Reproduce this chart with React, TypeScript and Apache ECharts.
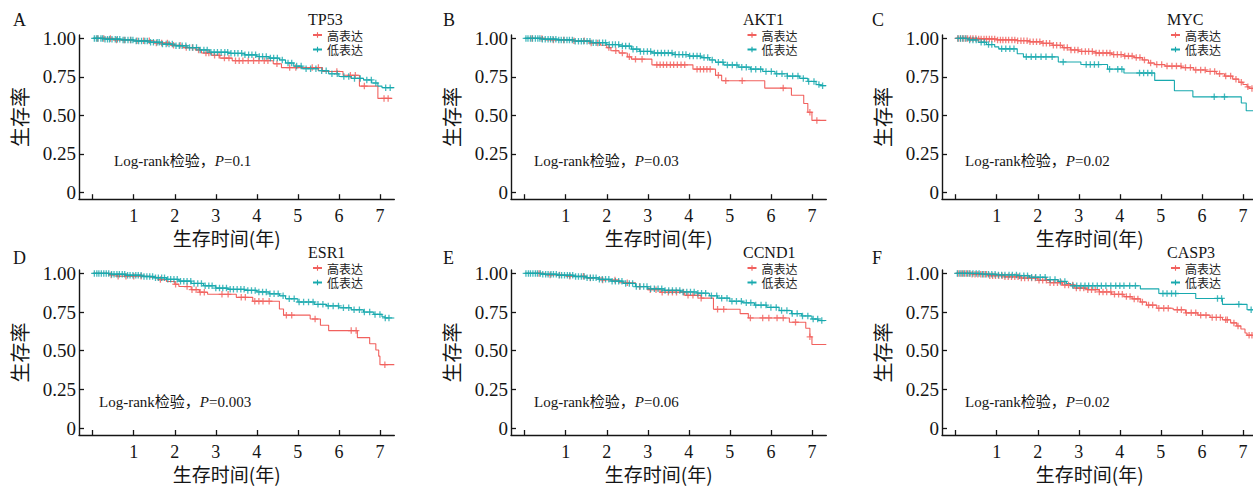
import React, { useEffect, useRef } from 'react';
import * as echarts from 'echarts';

// ---------------- data ----------------
const X_TICKS = [0, 1, 2, 3, 4, 5, 6, 7];
const X_LABELS = [1, 2, 3, 4, 5, 6, 7];
const Y_TICKS = [0, 0.25, 0.5, 0.75, 1];

const GROUP_HIGH = '高表达';
const GROUP_LOW = '低表达';

const GENES = ['TP53', 'AKT1', 'MYC', 'ESR1', 'CCND1', 'CASP3'];
const LETTERS = ['A', 'B', 'C', 'D', 'E', 'F'];
const P_VALUES = ['0.1', '0.03', '0.02', '0.003', '0.06', '0.02'];

// Kaplan-Meier steps: [time (years), survival]
const TP53_HIGH = [[0, 1], [0.5, 0.99], [1.0, 0.985], [1.5, 0.97], [1.9, 0.955], [2.2, 0.94], [2.5, 0.925], [2.65, 0.905], [2.9, 0.89], [3.1, 0.872], [3.4, 0.855], [4.4, 0.835], [4.6, 0.81], [5.6, 0.785], [6.1, 0.76], [6.5, 0.69], [6.95, 0.61], [7.3, 0.61]];
const TP53_LOW = [[0, 1], [0.3, 0.995], [0.7, 0.99], [1.0, 0.983], [1.4, 0.975], [1.7, 0.963], [2.0, 0.952], [2.3, 0.94], [2.6, 0.925], [2.85, 0.91], [3.3, 0.903], [3.7, 0.893], [4.0, 0.882], [4.3, 0.872], [4.55, 0.86], [4.7, 0.84], [4.9, 0.82], [5.1, 0.803], [5.5, 0.79], [5.75, 0.77], [6.0, 0.752], [6.3, 0.74], [6.6, 0.73], [6.8, 0.71], [6.95, 0.69], [7.05, 0.68], [7.35, 0.68]];
const TP53_HIGH_CENSOR = [0.12, 0.27, 0.43, 0.58, 0.77, 0.92, 1.08, 1.24, 1.38, 1.55, 1.68, 1.82, 1.97, 2.13, 2.28, 2.43, 2.58, 2.76, 2.83, 2.97, 3.08, 3.21, 3.32, 3.48, 3.57, 3.66, 3.79, 3.92, 4.05, 4.18, 4.27, 4.49, 4.8, 4.95, 5.35, 5.5, 5.95, 6.28, 6.4, 6.62, 7.1, 7.2];
const TP53_LOW_CENSOR = [0.04, 0.09, 0.13, 0.2, 0.24, 0.3, 0.36, 0.41, 0.47, 0.55, 0.6, 0.66, 0.74, 0.79, 0.86, 0.93, 0.98, 1.06, 1.12, 1.19, 1.27, 1.33, 1.41, 1.48, 1.57, 1.62, 1.7, 1.79, 1.86, 1.94, 2.03, 2.11, 2.18, 2.27, 2.36, 2.44, 2.53, 2.62, 2.71, 2.79, 2.88, 2.96, 3.04, 3.13, 3.22, 3.29, 3.37, 3.46, 3.54, 3.63, 3.71, 3.8, 3.88, 3.97, 4.06, 4.14, 4.23, 4.33, 4.41, 4.5, 4.62, 4.76, 4.85, 4.97, 5.08, 5.2, 5.31, 5.44, 5.58, 5.69, 5.83, 5.96, 6.12, 6.24, 6.38, 6.52, 6.68, 6.79, 6.9, 7.14, 7.25];

const AKT1_HIGH = [[0, 1], [0.5, 0.99], [1.2, 0.985], [1.6, 0.97], [1.85, 0.955], [2.0, 0.94], [2.1, 0.92], [2.3, 0.905], [2.5, 0.88], [2.6, 0.865], [3.1, 0.828], [4.1, 0.8], [4.65, 0.76], [4.8, 0.725], [5.85, 0.677], [6.5, 0.63], [6.8, 0.577], [6.9, 0.52], [7.0, 0.467], [7.35, 0.467]];
const AKT1_LOW = [[0, 1], [0.4, 0.995], [0.8, 0.99], [1.2, 0.982], [1.6, 0.972], [2.0, 0.96], [2.3, 0.95], [2.6, 0.93], [2.8, 0.915], [3.1, 0.905], [3.6, 0.895], [4.0, 0.885], [4.3, 0.875], [4.5, 0.86], [4.65, 0.845], [4.85, 0.827], [5.2, 0.813], [5.5, 0.8], [5.8, 0.785], [6.1, 0.77], [6.4, 0.755], [6.7, 0.74], [6.9, 0.72], [7.1, 0.7], [7.2, 0.693], [7.35, 0.693]];
const AKT1_HIGH_CENSOR = [0.18, 0.42, 0.7, 0.95, 1.2, 1.45, 1.62, 1.78, 2.05, 2.22, 2.38, 2.55, 2.7, 2.86, 3.22, 3.3, 3.38, 3.46, 3.55, 3.63, 3.72, 3.81, 3.9, 4.2, 4.28, 4.36, 4.44, 4.52, 4.72, 4.9, 5.3, 6.3, 6.95, 7.12];
const AKT1_LOW_CENSOR = [0.03, 0.08, 0.14, 0.19, 0.26, 0.32, 0.37, 0.43, 0.5, 0.57, 0.63, 0.69, 0.76, 0.83, 0.89, 0.96, 1.03, 1.09, 1.16, 1.23, 1.31, 1.38, 1.44, 1.52, 1.59, 1.67, 1.74, 1.82, 1.9, 1.97, 2.06, 2.14, 2.21, 2.29, 2.38, 2.46, 2.55, 2.64, 2.73, 2.82, 2.9, 2.99, 3.07, 3.16, 3.24, 3.33, 3.41, 3.5, 3.59, 3.67, 3.76, 3.85, 3.93, 4.02, 4.11, 4.2, 4.28, 4.37, 4.46, 4.57, 4.72, 4.83, 4.94, 5.06, 5.17, 5.29, 5.4, 5.52, 5.63, 5.75, 5.88, 6.01, 6.14, 6.27, 6.4, 6.53, 6.66, 6.79, 6.92, 7.05, 7.17, 7.26];

const MYC_HIGH = [[0, 1], [0.5, 0.996], [1.0, 0.99], [1.5, 0.985], [1.8, 0.978], [2.1, 0.968], [2.35, 0.955], [2.6, 0.94], [2.8, 0.925], [3.0, 0.915], [3.4, 0.905], [3.8, 0.895], [4.1, 0.885], [4.35, 0.875], [4.55, 0.86], [4.7, 0.84], [4.85, 0.83], [5.1, 0.82], [5.5, 0.81], [5.8, 0.795], [6.1, 0.785], [6.35, 0.77], [6.55, 0.755], [6.75, 0.735], [6.9, 0.715], [7.0, 0.7], [7.1, 0.685], [7.15, 0.675], [7.35, 0.675]];
const MYC_LOW = [[0, 1], [0.3, 0.99], [0.55, 0.975], [0.75, 0.96], [0.95, 0.945], [1.05, 0.932], [1.5, 0.9], [1.65, 0.88], [2.5, 0.847], [3.05, 0.83], [3.7, 0.8], [4.1, 0.775], [4.85, 0.727], [5.33, 0.66], [5.78, 0.62], [6.96, 0.58], [7.08, 0.53], [7.35, 0.53]];
const MYC_HIGH_CENSOR = [0.05, 0.11, 0.17, 0.23, 0.29, 0.36, 0.42, 0.49, 0.56, 0.62, 0.69, 0.75, 0.82, 0.88, 0.95, 1.02, 1.09, 1.15, 1.22, 1.29, 1.37, 1.44, 1.51, 1.59, 1.66, 1.74, 1.81, 1.89, 1.97, 2.05, 2.13, 2.21, 2.29, 2.38, 2.46, 2.55, 2.64, 2.72, 2.81, 2.9, 2.98, 3.07, 3.16, 3.24, 3.33, 3.42, 3.5, 3.59, 3.68, 3.76, 3.85, 3.94, 4.03, 4.12, 4.21, 4.3, 4.4, 4.49, 4.6, 4.75, 4.9, 5.02, 5.15, 5.27, 5.38, 5.49, 5.6, 5.72, 5.85, 5.97, 6.08, 6.2, 6.31, 6.43, 6.58, 6.7, 6.83, 6.96, 7.12, 7.22];
const MYC_LOW_CENSOR = [0.06, 0.12, 0.18, 0.25, 0.34, 0.42, 0.5, 0.62, 0.7, 0.8, 0.88, 1.12, 1.22, 1.32, 1.42, 1.72, 1.84, 1.95, 2.08, 2.2, 2.35, 2.62, 3.18, 3.28, 3.38, 3.48, 3.75, 3.95, 4.05, 4.48, 4.58, 4.68, 4.78, 6.3, 6.55];

const ESR1_HIGH = [[0, 1], [0.4, 0.99], [0.6, 0.982], [1.4, 0.975], [1.6, 0.96], [1.8, 0.948], [2.0, 0.93], [2.1, 0.915], [2.4, 0.895], [2.6, 0.878], [2.8, 0.865], [3.5, 0.845], [3.9, 0.82], [4.55, 0.77], [4.65, 0.73], [5.3, 0.705], [5.55, 0.665], [5.75, 0.63], [6.45, 0.585], [6.75, 0.545], [6.9, 0.505], [6.97, 0.465], [7.0, 0.41], [7.35, 0.41]];
const ESR1_LOW = [[0, 1], [0.4, 0.995], [0.8, 0.988], [1.2, 0.98], [1.5, 0.972], [1.8, 0.962], [2.1, 0.95], [2.4, 0.935], [2.7, 0.92], [3.0, 0.905], [3.3, 0.897], [3.7, 0.89], [4.0, 0.88], [4.3, 0.868], [4.55, 0.855], [4.7, 0.836], [5.0, 0.815], [5.4, 0.8], [5.7, 0.79], [6.0, 0.778], [6.3, 0.765], [6.6, 0.75], [6.85, 0.735], [7.05, 0.72], [7.12, 0.712], [7.35, 0.712]];
const ESR1_HIGH_CENSOR = [0.45, 0.62, 0.81, 1.0, 1.18, 1.65, 2.02, 2.3, 2.42, 2.52, 2.62, 2.72, 3.15, 3.3, 3.62, 3.72, 3.95, 4.05, 4.15, 4.3, 4.72, 4.85, 5.42, 6.3, 6.42, 7.12];
const ESR1_LOW_CENSOR = [0.04, 0.1, 0.15, 0.21, 0.27, 0.33, 0.39, 0.46, 0.52, 0.59, 0.65, 0.72, 0.78, 0.85, 0.91, 0.98, 1.05, 1.11, 1.18, 1.25, 1.32, 1.39, 1.46, 1.53, 1.6, 1.68, 1.75, 1.83, 1.9, 1.98, 2.06, 2.14, 2.22, 2.3, 2.39, 2.47, 2.56, 2.65, 2.74, 2.83, 2.91, 3.0, 3.09, 3.17, 3.26, 3.35, 3.43, 3.52, 3.61, 3.69, 3.78, 3.87, 3.96, 4.05, 4.14, 4.23, 4.32, 4.42, 4.52, 4.64, 4.79, 4.91, 5.03, 5.14, 5.26, 5.37, 5.49, 5.61, 5.74, 5.86, 5.99, 6.11, 6.24, 6.37, 6.5, 6.62, 6.75, 6.88, 7.0, 7.13, 7.22];

const CCND1_HIGH = [[0, 1], [0.5, 0.99], [1.0, 0.982], [1.5, 0.97], [1.9, 0.957], [2.3, 0.94], [2.7, 0.915], [3.0, 0.895], [3.3, 0.878], [3.9, 0.858], [4.3, 0.84], [4.6, 0.768], [5.25, 0.74], [5.45, 0.712], [6.45, 0.684], [6.85, 0.645], [6.95, 0.59], [7.0, 0.54], [7.35, 0.54]];
const CCND1_LOW = [[0, 1], [0.4, 0.995], [0.8, 0.988], [1.2, 0.98], [1.5, 0.972], [1.8, 0.962], [2.1, 0.95], [2.4, 0.935], [2.7, 0.915], [3.0, 0.9], [3.4, 0.89], [3.8, 0.88], [4.2, 0.872], [4.5, 0.855], [4.7, 0.84], [5.0, 0.82], [5.3, 0.81], [5.6, 0.795], [5.9, 0.78], [6.2, 0.76], [6.5, 0.74], [6.75, 0.725], [7.0, 0.705], [7.15, 0.695], [7.35, 0.695]];
const CCND1_HIGH_CENSOR = [0.35, 0.62, 0.85, 1.1, 1.43, 1.6, 1.9, 2.2, 2.5, 2.8, 3.06, 3.2, 3.35, 3.5, 3.6, 3.7, 3.87, 3.98, 4.1, 4.22, 4.3, 4.7, 4.85, 5.5, 5.8, 5.95, 6.15, 6.3, 6.6, 6.95];
const CCND1_LOW_CENSOR = [0.03, 0.09, 0.14, 0.2, 0.26, 0.31, 0.38, 0.44, 0.51, 0.57, 0.64, 0.7, 0.77, 0.84, 0.9, 0.97, 1.04, 1.1, 1.17, 1.24, 1.31, 1.38, 1.45, 1.52, 1.6, 1.67, 1.74, 1.82, 1.89, 1.97, 2.05, 2.13, 2.21, 2.29, 2.37, 2.46, 2.55, 2.63, 2.72, 2.81, 2.9, 2.98, 3.07, 3.16, 3.25, 3.34, 3.42, 3.51, 3.6, 3.69, 3.78, 3.86, 3.95, 4.04, 4.13, 4.22, 4.31, 4.41, 4.55, 4.68, 4.8, 4.93, 5.05, 5.16, 5.28, 5.4, 5.51, 5.63, 5.76, 5.88, 6.0, 6.13, 6.26, 6.39, 6.52, 6.64, 6.77, 6.9, 7.03, 7.14, 7.24];

const CASP3_HIGH = [[0, 1], [0.4, 0.995], [0.8, 0.985], [1.2, 0.978], [1.6, 0.97], [2.0, 0.955], [2.3, 0.94], [2.6, 0.925], [2.9, 0.905], [3.2, 0.895], [3.5, 0.88], [3.8, 0.865], [4.1, 0.85], [4.3, 0.835], [4.5, 0.815], [4.65, 0.795], [4.9, 0.775], [5.3, 0.765], [5.6, 0.745], [5.9, 0.73], [6.2, 0.715], [6.5, 0.7], [6.7, 0.68], [6.85, 0.66], [6.95, 0.64], [7.05, 0.615], [7.1, 0.6], [7.35, 0.6]];
const CASP3_LOW = [[0, 1], [0.6, 0.995], [1.0, 0.99], [1.5, 0.985], [1.8, 0.975], [2.2, 0.96], [2.5, 0.948], [2.7, 0.935], [2.8, 0.92], [4.5, 0.9], [4.95, 0.87], [5.85, 0.838], [6.5, 0.8], [7.1, 0.765], [7.35, 0.765]];
const CASP3_HIGH_CENSOR = [0.06, 0.13, 0.19, 0.26, 0.33, 0.4, 0.47, 0.54, 0.61, 0.68, 0.75, 0.83, 0.9, 0.97, 1.05, 1.13, 1.2, 1.28, 1.36, 1.44, 1.52, 1.6, 1.68, 1.77, 1.85, 1.94, 2.03, 2.12, 2.21, 2.3, 2.39, 2.48, 2.57, 2.66, 2.75, 2.85, 2.94, 3.03, 3.12, 3.22, 3.31, 3.4, 3.5, 3.59, 3.68, 3.78, 3.87, 3.97, 4.06, 4.16, 4.25, 4.35, 4.44, 4.55, 4.7, 4.8, 4.95, 5.07, 5.18, 5.4, 5.5, 5.62, 5.74, 5.85, 5.97, 6.1, 6.25, 6.35, 6.45, 6.58, 6.62, 6.78, 6.88, 7.15, 7.22];
const CASP3_LOW_CENSOR = [0.04, 0.1, 0.16, 0.22, 0.29, 0.35, 0.42, 0.5, 0.57, 0.65, 0.72, 0.8, 0.88, 0.96, 1.04, 1.12, 1.2, 1.3, 1.38, 1.48, 1.56, 1.66, 1.75, 1.85, 1.95, 2.06, 2.18, 2.3, 2.42, 2.55, 2.66, 2.86, 2.95, 3.05, 3.15, 3.24, 3.34, 3.45, 3.55, 3.66, 3.78, 3.9, 4.0, 4.1, 4.24, 4.38, 5.05, 5.15, 5.26, 5.36, 6.38, 6.48, 6.9, 7.2];

const HIGH_STEPS = [TP53_HIGH, AKT1_HIGH, MYC_HIGH, ESR1_HIGH, CCND1_HIGH, CASP3_HIGH];
const LOW_STEPS = [TP53_LOW, AKT1_LOW, MYC_LOW, ESR1_LOW, CCND1_LOW, CASP3_LOW];
const HIGH_CENSOR = [TP53_HIGH_CENSOR, AKT1_HIGH_CENSOR, MYC_HIGH_CENSOR, ESR1_HIGH_CENSOR, CCND1_HIGH_CENSOR, CASP3_HIGH_CENSOR];
const LOW_CENSOR = [TP53_LOW_CENSOR, AKT1_LOW_CENSOR, MYC_LOW_CENSOR, ESR1_LOW_CENSOR, CCND1_LOW_CENSOR, CASP3_LOW_CENSOR];

// ---------------- style / layout ----------------
const RED = '#F1615E';
const TEAL = '#18A9AE';
const INK = '#151515';
const SERIF = '"Liberation Serif", "Times New Roman", serif';
const CJK = '"Noto Sans CJK SC", sans-serif';
const MIXED = '"Liberation Serif", "Noto Sans CJK SC", serif';
const PLUS = 'path://M2,0H3V2H5V3H3V5H2V3H0V2H2Z';

const COL_LEFT = [79, 511, 942];
const ROW_TOP = [35, 270];
const GRID_W = 315.3;
const GRID_H = [164.2, 165];
const X_MIN = -0.334;
const X_MAX = 7.35;
const Y_MIN = -0.045;
const Y_MAX = 1.022;

const LEGEND_LEFT = [312, 746.5, 1170];
const LEGEND_TOP = [28, 261];
const GENE_LEFT = [308, 743, 1167];
const GENE_Y = [19.5, 252];
const LETTER_LEFT = [13, 443, 872];
const LETTER_Y = [21, 259];
const LOGRANK_POS = [[114, 162], [534, 162], [965, 162.5], [99, 403.3], [534, 403.3], [965, 403]];

function survAt(steps: number[][], t: number): number {
  let s = 1;
  for (const [tt, v] of steps) {
    if (tt <= t) s = v;
    else break;
  }
  return s;
}

function buildOption() {
  const grid: any[] = [];
  const xAxis: any[] = [];
  const yAxis: any[] = [];
  const series: any[] = [];
  const legend: any[] = [];
  const graphic: any[] = [];
  const axisLine = { show: true, onZero: false, lineStyle: { color: INK, width: 1.4 } };

  GENES.forEach((gene, i) => {
    const col = i % 3;
    const row = Math.floor(i / 3);
    grid.push({
      left: COL_LEFT[col],
      top: ROW_TOP[row],
      width: GRID_W,
      height: GRID_H[row],
      containLabel: false,
      outerBoundsMode: 'none',
    });
    xAxis.push({
      gridIndex: i,
      type: 'value',
      min: X_MIN,
      max: X_MAX,
      axisLine,
      axisTick: { show: true, inside: true, length: 5, customValues: X_TICKS, lineStyle: { color: INK, width: 1.3 } },
      axisLabel: {
        customValues: X_LABELS,
        fontSize: 18,
        fontFamily: SERIF,
        color: INK,
        margin: 8,
      },
      splitLine: { show: false },
      name: '生存时间(年)',
      nameLocation: 'middle',
      nameGap: 29,
      nameTextStyle: { fontSize: 19, lineHeight: 19, fontFamily: CJK, color: INK, padding: [0, 20, 0, 0] },
    });
    yAxis.push({
      gridIndex: i,
      type: 'value',
      min: Y_MIN,
      max: Y_MAX,
      axisLine,
      axisTick: { show: true, inside: true, length: 5, customValues: Y_TICKS, lineStyle: { color: INK, width: 1.3 } },
      axisLabel: {
        customValues: Y_TICKS,
        formatter: (v: number) => (v === 0 ? '0' : v.toFixed(2)),
        fontSize: 19,
        fontFamily: SERIF,
        color: INK,
        margin: 3,
      },
      splitLine: { show: false },
      name: '生存率',
      nameLocation: 'middle',
      nameRotate: 90,
      nameGap: 50,
      nameTextStyle: { fontSize: 20, fontFamily: CJK, color: INK },
    });

    const groups = [
      { name: GROUP_HIGH, color: RED, steps: HIGH_STEPS[i], censor: HIGH_CENSOR[i] },
      { name: GROUP_LOW, color: TEAL, steps: LOW_STEPS[i], censor: LOW_CENSOR[i] },
    ];
    groups.forEach((g) => {
      series.push({
        type: 'line',
        name: g.name,
        xAxisIndex: i,
        yAxisIndex: i,
        data: g.steps,
        step: 'end',
        symbol: PLUS,
        showSymbol: false,
        lineStyle: { color: g.color, width: 1.1 },
        itemStyle: { color: g.color },
        silent: true,
        z: 2,
      });
    });
    groups.forEach((g) => {
      series.push({
        type: 'scatter',
        name: g.name + '删失',
        xAxisIndex: i,
        yAxisIndex: i,
        data: g.censor.map((t) => [t, survAt(g.steps, t)]),
        symbol: PLUS,
        symbolSize: 6.5,
        itemStyle: { color: g.color },
        silent: true,
        z: 3,
      });
    });

    legend.push({
      data: [GROUP_HIGH, GROUP_LOW],
      orient: 'vertical',
      left: LEGEND_LEFT[col],
      top: LEGEND_TOP[row],
      padding: 0,
      itemGap: 0.5,
      itemWidth: 9,
      itemHeight: 7,
      selectedMode: false,
      textStyle: { fontSize: 12, lineHeight: 14, color: '#222', fontFamily: CJK },
    });

    graphic.push({
      type: 'text',
      left: LETTER_LEFT[col],
      top: LETTER_Y[row] - 10,
      style: { text: LETTERS[i], fontSize: 18, fontFamily: SERIF, fill: INK },
    });
    graphic.push({
      type: 'text',
      left: GENE_LEFT[col],
      top: GENE_Y[row] - 8,
      style: { text: gene, fontSize: 16, fontFamily: SERIF, fill: INK },
    });
    graphic.push({
      type: 'text',
      left: LOGRANK_POS[i][0],
      top: LOGRANK_POS[i][1] - 9,
      style: {
        text: 'Log-rank检验，{p|P}=' + P_VALUES[i],
        fontSize: 15,
        fontFamily: MIXED,
        fill: INK,
        rich: {
          p: { fontSize: 15, fontFamily: SERIF, fontStyle: 'italic', fill: INK },
        },
      },
    });
  });

  return {
    animation: false,
    backgroundColor: '#ffffff',
    grid,
    xAxis,
    yAxis,
    series,
    legend,
    graphic,
  };
}

export default function App() {
  const ref = useRef<HTMLDivElement>(null);
  useEffect(() => {
    if (!ref.current) return;
    const chart = echarts.init(ref.current, undefined, { renderer: 'svg' });
    chart.setOption(buildOption() as any);
    return () => chart.dispose();
  }, []);
  return (
    <div
      ref={ref}
      style={{ position: 'absolute', left: 0, top: 0, width: 1253, height: 486, background: '#fff' }}
    />
  );
}
